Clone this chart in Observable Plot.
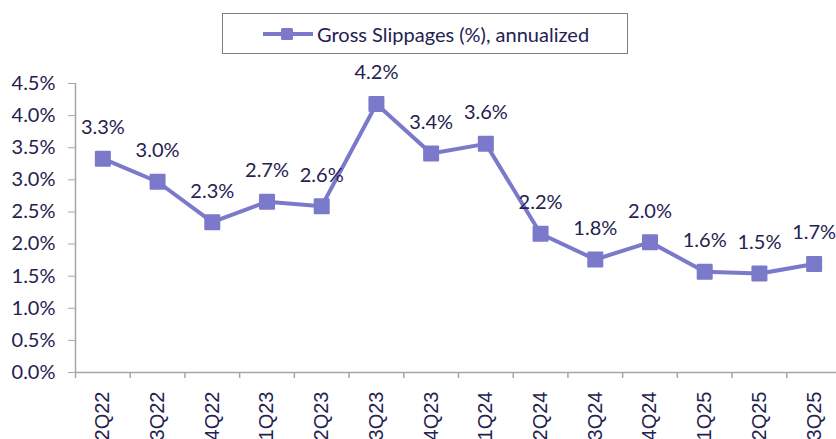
<!DOCTYPE html>
<html>
<head>
<meta charset="utf-8">
<script src="https://cdn.jsdelivr.net/npm/d3@7"></script>
<script src="https://cdn.jsdelivr.net/npm/@observablehq/plot@0.6"></script>
<style>
  html, body { margin: 0; padding: 0; background: #fff; }
  #wrap { position: relative; width: 836px; height: 439px; overflow: hidden; }
  #legend { position: absolute; left: 222px; top: 13px; width: 404px; height: 39px;
    border: 1.5px solid #7f7f7f; box-sizing: content-box; font-family: Lato, sans-serif;
    font-size: 20px; color: #24224f; display: flex; align-items: center; }
  #legend svg { margin-left: 39px; margin-right: 3px; }
  #chart { position: absolute; left: 0; top: 60px; }
</style>
</head>
<body>
<div id="wrap">
  <div id="legend"></div>
  <div id="chart"></div>
</div>
<script>
const quarters = ["2Q22","3Q22","4Q22","1Q23","2Q23","3Q23","4Q23","1Q24","2Q24","3Q24","4Q24","1Q25","2Q25","3Q25"];
const slippages = [3.33, 2.97, 2.34, 2.66, 2.59, 4.18, 3.41, 3.56, 2.16, 1.76, 2.03, 1.57, 1.54, 1.69];
const pointLabels = ["3.3%","3.0%","2.3%","2.7%","2.6%","4.2%","3.4%","3.6%","2.2%","1.8%","2.0%","1.6%","1.5%","1.7%"];
const yTicks = [0, 0.5, 1, 1.5, 2, 2.5, 3, 3.5, 4, 4.5];
const seriesName = "Gross Slippages (%), annualized";

const lineColor = "#7b79c9";
const textColor = "#24224f";
const data = quarters.map((q, i) => ({q, v: slippages[i], label: pointLabels[i]}));

const xRange = [75, 841];
const bw = (xRange[1] - xRange[0]) / quarters.length;

const plot = Plot.plot({
  width: 836,
  height: 379,
  marginTop: 23,
  marginBottom: 67,
  marginLeft: 75,
  marginRight: 0,
  style: {fontFamily: "Lato, sans-serif", background: "#fff", overflow: "visible"},
  x: {type: "band", domain: quarters, range: xRange, padding: 0, round: false},
  y: {domain: [0, 4.5], ticks: yTicks},
  marks: [
    Plot.axisY({ticks: yTicks, tickFormat: d => d.toFixed(1) + "%", tickSize: 7, tickPadding: 13,
      fontSize: 20, color: textColor, stroke: "#a6a6a6", label: null}),
    Plot.axisX({tickSize: 0, tickPadding: 19, tickRotate: -90, fontSize: 20,
      fontFamily: "Liberation Sans, Arial, sans-serif", color: textColor, label: null}),
    Plot.ruleY([0], {stroke: "#a6a6a6", strokeWidth: 1.5}),
    Plot.ruleX([quarters[0]], {y1: 0, y2: 4.5, dx: -bw / 2, stroke: "#a6a6a6", strokeWidth: 1.5}),
    Plot.ruleX(quarters, {y1: 0, y2: 0, insetBottom: -6, dx: -bw / 2, stroke: "#a6a6a6", strokeWidth: 1.5}),
    Plot.line(data, {x: "q", y: "v", stroke: lineColor, strokeWidth: 4}),
    Plot.dot(data, {x: "q", y: "v", symbol: "square", r: 7.9, fill: lineColor, stroke: lineColor,
      strokeWidth: 2, strokeLinejoin: "round"}),
    Plot.text(data, {x: "q", y: "v", text: "label", dy: -31, fontSize: 20, fill: textColor})
  ]
});
document.getElementById("chart").appendChild(plot);

// legend
const leg = document.getElementById("legend");
leg.innerHTML = `<svg width="52" height="20"><line x1="1" y1="10" x2="51" y2="10" stroke="${lineColor}" stroke-width="4"/><rect x="19" y="4" width="12" height="12" rx="1.5" fill="${lineColor}"/></svg><span>${seriesName}</span>`;
</script>
</body>
</html>
